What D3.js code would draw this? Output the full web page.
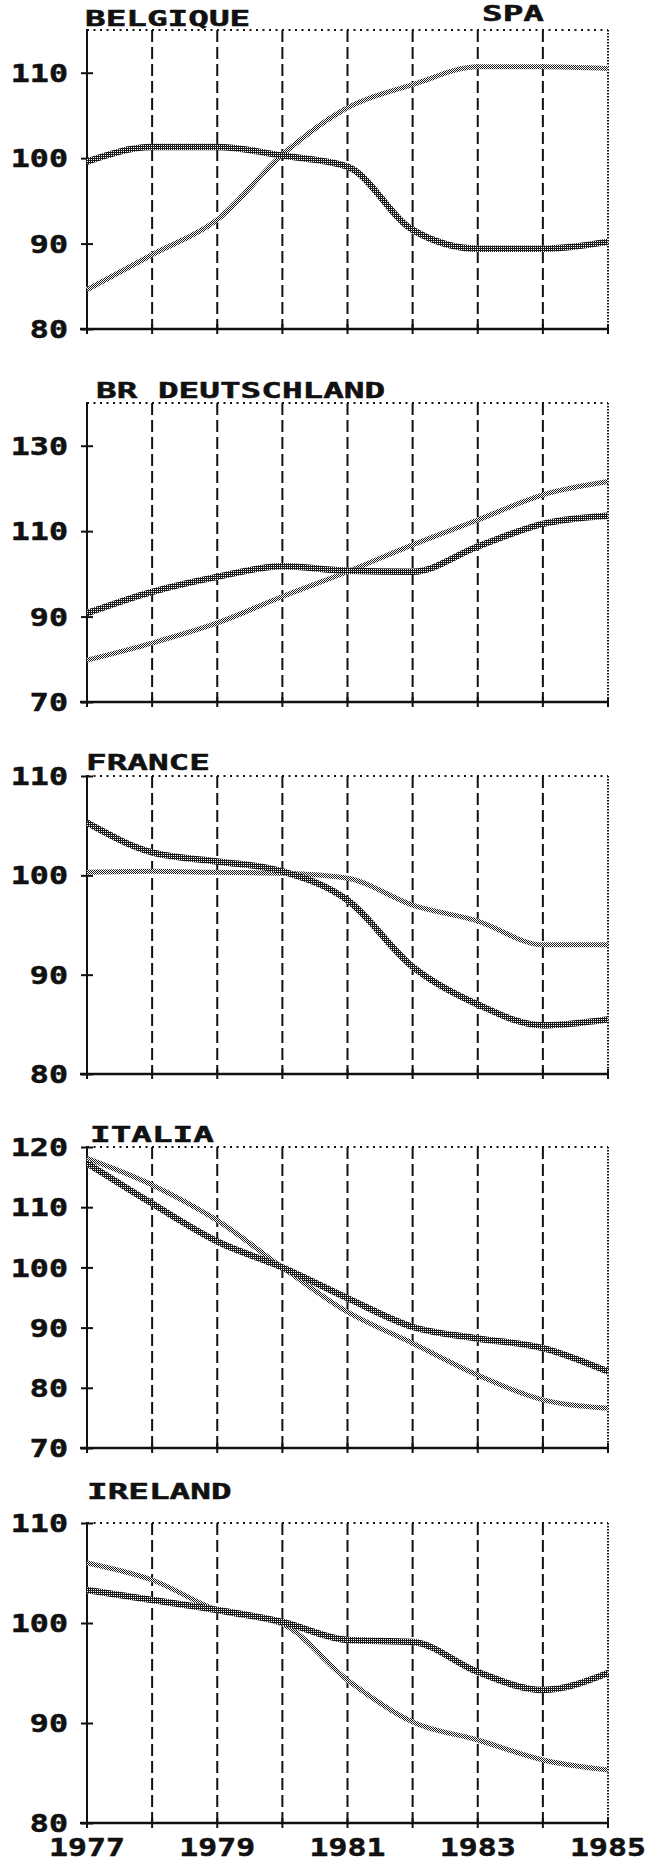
<!DOCTYPE html>
<html>
<head>
<meta charset="utf-8">
<script src="https://cdn.jsdelivr.net/npm/d3@7"></script>
<style>
  body { margin: 0; background: #fff; }
  text { font-family: "DejaVu Sans Mono", monospace; font-weight: bold; fill: #111; stroke: #111; stroke-width: 0.5; }
</style>
</head>
<body>
<svg id="chart"></svg>
<script>
// values
const years = [1977, 1978, 1979, 1980, 1981, 1982, 1983, 1984, 1985];
const yearLabels = [1977, 1979, 1981, 1983, 1985];
const countries = ["BELGIQUE", "BR DEUTSCHLAND", "FRANCE", "ITALIA", "IRELAND"];
const cornerLabel = "SPA";
const yDomains = [[80, 115], [70, 140], [80, 110], [70, 120], [80, 110]];
const yTicks = [
  [80, 90, 100, 110],
  [70, 90, 110, 130],
  [80, 90, 100, 110],
  [70, 80, 90, 100, 110, 120],
  [80, 90, 100, 110]
];
// thick cross-hatched series
const solidSeries = [
  [99.6, 101.3, 101.3, 100.3, 99.0, 91.6, 89.4, 89.4, 90.2],
  [90.8, 95.8, 99.3, 101.8, 100.7, 100.5, 106.4, 111.7, 113.6],
  [105.3, 102.3, 101.4, 100.4, 97.5, 90.8, 87.0, 84.9, 85.5],
  [117.3, 110.6, 104.3, 100.0, 94.9, 90.1, 88.2, 86.6, 82.7],
  [103.3, 102.3, 101.3, 100.1, 98.3, 98.1, 95.1, 93.3, 95.0]
];
// thin double-dotted series
const dottedSeries = [
  [84.6, 88.7, 92.8, 100.4, 105.9, 108.6, 110.7, 110.7, 110.5],
  [79.8, 83.8, 88.5, 94.7, 100.5, 106.8, 112.6, 118.5, 121.6],
  [100.3, 100.4, 100.3, 100.2, 99.7, 97.0, 95.4, 93.0, 93.0],
  [118.1, 113.7, 107.8, 100.0, 92.6, 87.4, 82.1, 78.0, 76.6],
  [106.0, 104.3, 101.3, 99.9, 94.3, 90.1, 88.3, 86.3, 85.3]
];

// layout
const width = 648, height = 1863;
const panelTop = [30, 403, 776, 1147, 1523];
const panelBottom = [329, 702, 1074, 1448, 1823];
const titlePos = [[85, 26], [96, 398], [86, 770], [90, 1142], [87, 1499]];

const svg = d3.select("#chart")
    .attr("width", width)
    .attr("height", height);

// dither patterns for the two line styles
const defs = svg.append("defs");
let dk = defs.append("pattern")
    .attr("id", "dark")
    .attr("width", 2).attr("height", 2)
    .attr("patternUnits", "userSpaceOnUse");
dk.append("rect").attr("width", 2).attr("height", 2).attr("fill", "#1a1a1a");
dk.append("rect").attr("x", 1).attr("y", 1).attr("width", 1).attr("height", 1).attr("fill", "#fff");

let lt = defs.append("pattern")
    .attr("id", "light")
    .attr("width", 2).attr("height", 2)
    .attr("patternUnits", "userSpaceOnUse");
lt.append("rect").attr("width", 2).attr("height", 2).attr("fill", "#fff");
lt.append("rect").attr("width", 1).attr("height", 1).attr("fill", "#1a1a1a");
lt.append("rect").attr("x", 1).attr("y", 1).attr("width", 1).attr("height", 1).attr("fill", "#1a1a1a");

const x = d3.scaleLinear()
    .domain([years[0], years[years.length - 1]])
    .range([87, 608]);

// corner label (cut at the top edge in the original; kept fully visible here)
svg.append("text")
    .attr("transform", "translate(482,21) scale(1.56,1)")
    .attr("font-size", 22)
    .text(cornerLabel);

countries.forEach((name, i) => {
  let top = panelTop[i], bottom = panelBottom[i];
  let y = d3.scaleLinear()
      .domain(yDomains[i])
      .range([bottom, top]);

  let g = svg.append("g");

  // dashed year gridlines
  g.selectAll(".grid")
    .data(years.slice(1, -1))
    .enter()
    .append("line")
      .attr("x1", d => x(d)).attr("x2", d => x(d))
      .attr("y1", top).attr("y2", bottom)
      .attr("stroke", "#111")
      .attr("stroke-width", 2)
      .attr("stroke-dasharray", "12,5");

  // dotted frame top + right
  g.append("line")
      .attr("x1", x(years[0])).attr("x2", x(years[years.length - 1]))
      .attr("y1", top).attr("y2", top)
      .attr("stroke", "#111")
      .attr("stroke-width", 2)
      .attr("stroke-dasharray", "2,4.5");
  g.append("line")
      .attr("x1", x(years[years.length - 1])).attr("x2", x(years[years.length - 1]))
      .attr("y1", top).attr("y2", bottom)
      .attr("stroke", "#111")
      .attr("stroke-width", 2)
      .attr("stroke-dasharray", "1.5,1.5");

  // y axis
  let yAxis = g.append("g")
      .attr("transform", `translate(${x(years[0])},0)`)
      .call(d3.axisLeft(y).tickValues(yTicks[i]).tickSizeOuter(0));
  yAxis.select(".domain").remove();
  yAxis.selectAll(".tick line")
      .attr("x1", -6).attr("x2", 6)
      .attr("stroke", "#111").attr("stroke-width", 2);
  yAxis.selectAll(".tick text")
      .attr("x", 0).attr("dy", "0.36em")
      .attr("transform", "translate(-19,0) scale(1.32,1)")
      .attr("font-size", 24)
      .attr("font-family", null)
      .attr("fill", "#111");
  g.append("line")
      .attr("x1", x(years[0])).attr("x2", x(years[0]))
      .attr("y1", top - 1).attr("y2", bottom)
      .attr("stroke", "#111").attr("stroke-width", 2);

  // bottom axis with ticks crossing it
  g.append("line")
      .attr("x1", x(years[0]) - 7).attr("x2", x(years[years.length - 1]))
      .attr("y1", bottom).attr("y2", bottom)
      .attr("stroke", "#111").attr("stroke-width", 2.5);
  g.selectAll(".xtick")
    .data(years)
    .enter()
    .append("line")
      .attr("x1", d => x(d)).attr("x2", d => x(d))
      .attr("y1", bottom - 5).attr("y2", bottom + 5)
      .attr("stroke", "#111").attr("stroke-width", 2);

  // series
  let line = d3.line()
      .x((d, j) => x(years[j]))
      .y(d => y(d))
      .curve(d3.curveMonotoneX);

  g.append("path")
      .attr("d", line(dottedSeries[i]))
      .attr("fill", "none")
      .attr("stroke", "url(#light)")
      .attr("stroke-width", 5);
  g.append("path")
      .attr("d", line(solidSeries[i]))
      .attr("fill", "none")
      .attr("stroke", "url(#dark)")
      .attr("stroke-width", 6.5);

  // panel title
  g.append("text")
      .attr("transform", `translate(${titlePos[i][0]},${titlePos[i][1]}) scale(1.56,1)`)
      .attr("font-size", 22)
      .text(name);
});

// year labels under the last panel
svg.selectAll(".year")
  .data(yearLabels)
  .enter()
  .append("text")
    .attr("transform", d => `translate(${x(d)},1856) scale(1.26,1)`)
    .attr("text-anchor", "middle")
    .attr("font-size", 25)
    .text(d => d);
</script>
</body>
</html>
